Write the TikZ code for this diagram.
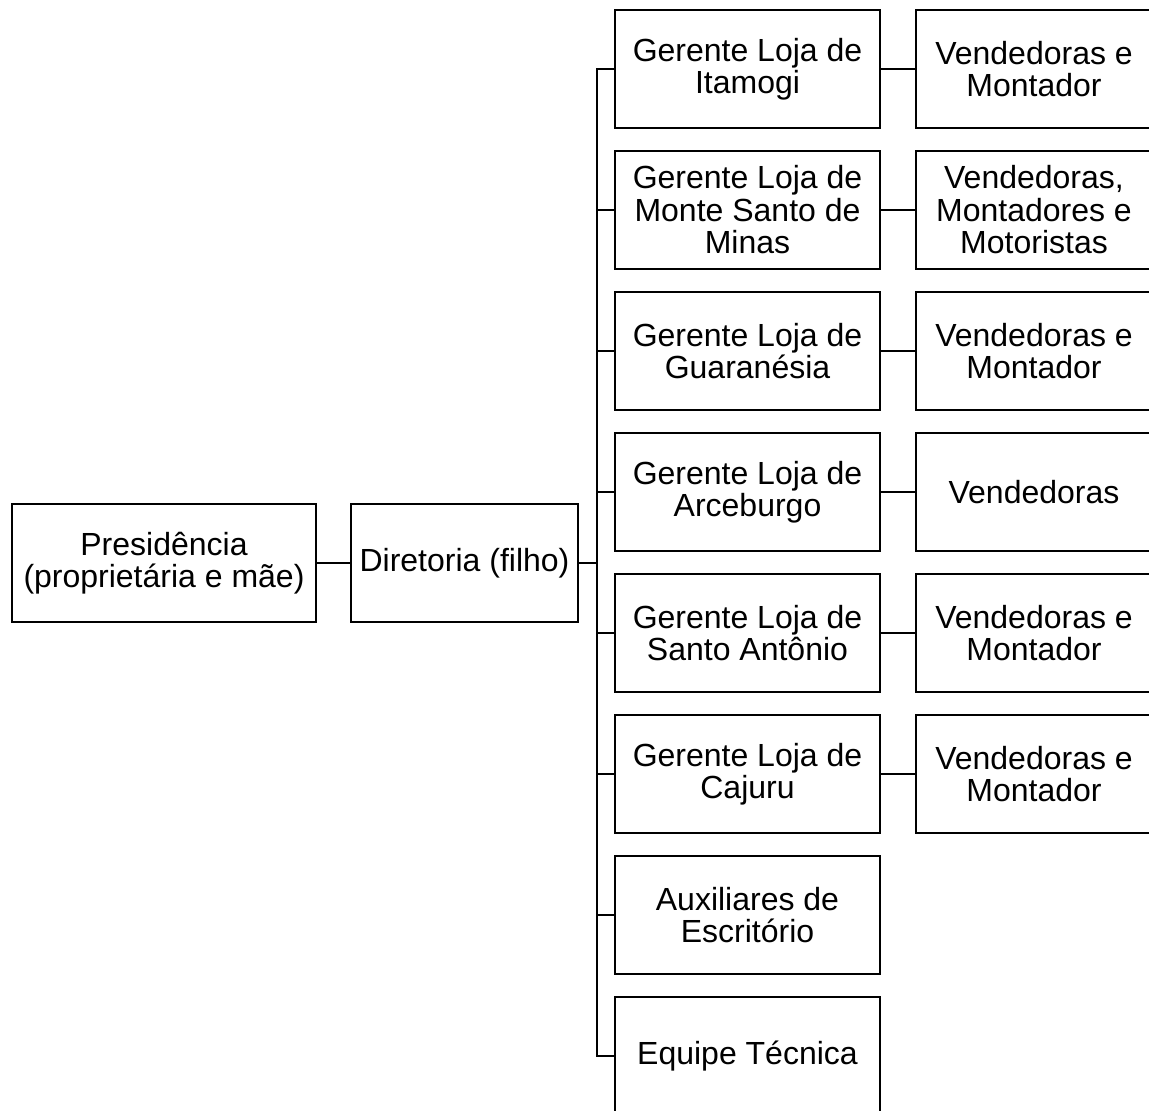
\documentclass[tikz,border=0pt]{standalone}
\usepackage{fontspec}
\setmainfont{Liberation Sans}
\begin{document}
\begin{tikzpicture}[x=1pt,y=-1pt,
  box/.style={draw=black,line width=1.6pt,fill=white,align=center,inner sep=0pt,
    font=\fontsize{32}{32.5}\selectfont},
  conn/.style={draw=black,line width=1.6pt}]
\clip (0,0) rectangle (1149,1111);
\fill[white] (0,0) rectangle (1149,1111);
\node[box,minimum width=304pt,minimum height=118pt] (p) at (164,563) {Presidência\\(proprietária e mãe)};
\node[box,minimum width=227pt,minimum height=118pt] (d) at (464.5,563) {Diretoria (filho)};
\foreach \i/\t in {1/{Gerente Loja de\\Itamogi},2/{Gerente Loja de\\Monte Santo de\\Minas},3/{Gerente Loja de\\Guaranésia},4/{Gerente Loja de\\Arceburgo},5/{Gerente Loja de\\Santo Antônio},6/{Gerente Loja de\\Cajuru},7/{Auxiliares de\\Escritório},8/{Equipe Técnica}}{
  \node[box,minimum width=265pt,minimum height=118pt] (g\i) at (747.5,{69+141*(\i-1)}) {\t};
}
\foreach \i/\t in {1/{Vendedoras e\\Montador},2/{Vendedoras,\\Montadores e\\Motoristas},3/{Vendedoras e\\Montador},4/{Vendedoras},5/{Vendedoras e\\Montador},6/{Vendedoras e\\Montador}}{
  \node[box,minimum width=236pt,minimum height=118pt] (v\i) at (1034,{69+141*(\i-1)}) {\t};
  \draw[conn] (g\i.east) -- (v\i.west);
}
\coordinate (bt) at (597,69);
\draw[conn] (p.east) -- (d.east -| d.west);
\draw[conn] (g1.west) -- (bt) |- (g8.west);
\foreach \i in {2,...,7}{\draw[conn] (g\i.west) -- (g\i.west -| bt);}
\draw[conn] (d.east) -- (d.east -| bt);
\end{tikzpicture}
\end{document}
